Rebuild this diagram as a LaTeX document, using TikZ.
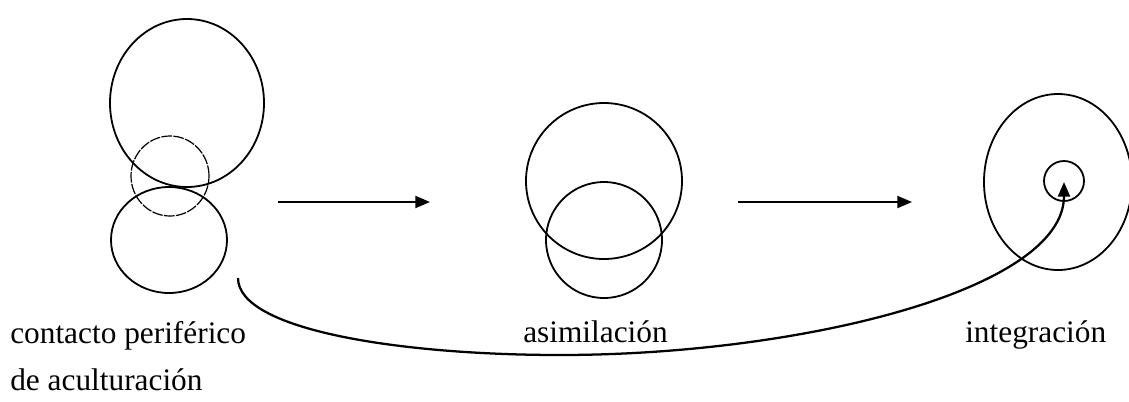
\documentclass[tikz,border=0pt]{standalone}
\usepackage{fontspec}
\setmainfont{Liberation Serif}
\usetikzlibrary{arrows.meta,shapes.geometric}

\begin{document}
\begin{tikzpicture}[x=0.75pt, y=-0.75pt,
	every node/.style={font=\fontsize{23.5}{28}\selectfont},
	ring/.style={draw, ellipse, line width=1.35pt, inner sep=0pt},
	label/.style={anchor=base west, inner sep=0pt},
	>={Triangle[length=11pt, width=9pt]}]
	\useasboundingbox (0,0) rectangle (1129,401);
	% contacto periferico
	\node[ring, minimum width=115.5pt, minimum height=126pt] (ltop) at (187,103) {};
	\node[ring, line width=0.9pt, dash pattern=on 8pt off 1pt, minimum width=58.5pt, minimum height=60pt] (lmid) at (170,176) {};
	\node[ring, minimum width=87pt, minimum height=79.5pt] (lbot) at (169,240) {};
	% asimilacion
	\node[ring, minimum width=117pt, minimum height=117pt] (mtop) at (604,181) {};
	\node[ring, minimum width=87pt, minimum height=87pt] (mbot) at (604,240) {};
	% integracion
	\node[ring, minimum width=111pt, minimum height=132pt] (rbig) at (1058,182) {};
	\node[ring, minimum width=30pt, minimum height=30pt] (rcore) at (1064,181) {};
	% labels
	\node[label] (lab1) at (10,343) {contacto periférico};
	\node[label] (lab2) at (10,390) {de aculturación};
	\node[label] (lab3) at (523,342) {asimilación};
	\node[label] (lab4) at (965,342) {integración};
	% arrows
	\coordinate (a1s) at (278,202);
	\coordinate (a1e) at (430,202);
	\coordinate (a2s) at (738,202);
	\coordinate (a2e) at (912,202);
	\draw[->, line width=1.5pt] (a1s) -- (a1e);
	\draw[->, line width=1.5pt] (a2s) -- (a2e);
	\coordinate (cstart) at (238,278);
	\coordinate (clow) at (560,355);
	\coordinate (ctip) at (1064,182);
	\draw[->, line width=1.7pt] (cstart) .. controls (238,330) and (400,355) .. (clow)
		.. controls (800,355) and (1064,290) .. (ctip);
\end{tikzpicture}
\end{document}
